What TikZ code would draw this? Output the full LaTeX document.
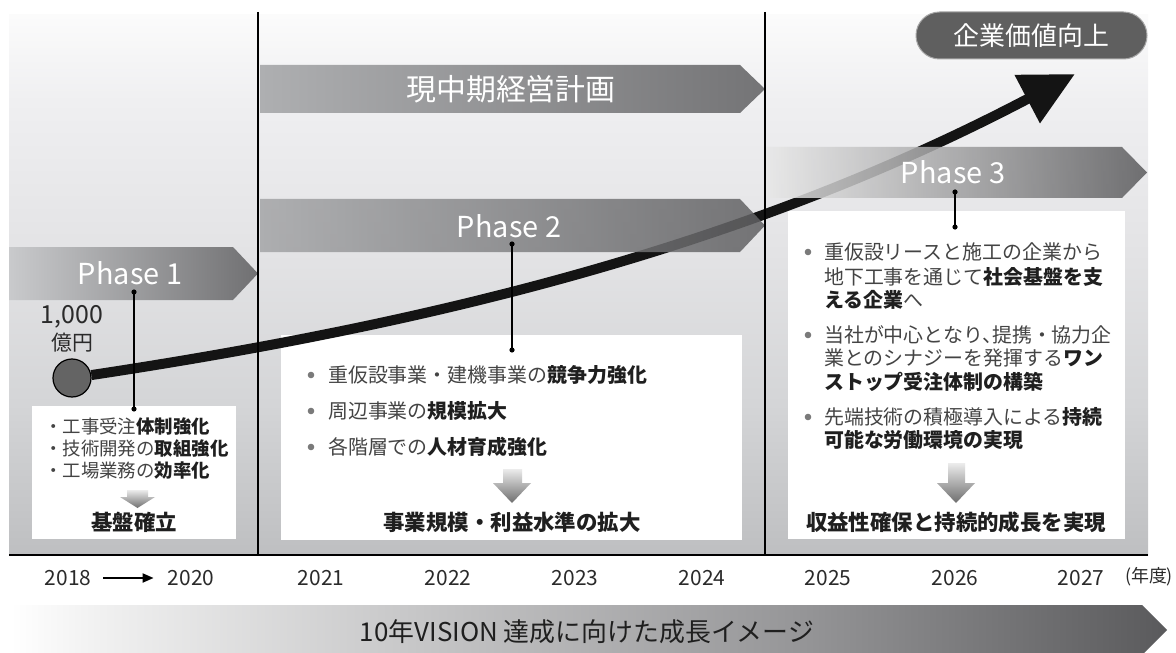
\documentclass[tikz,border=0pt]{standalone}
\usepackage{fontspec}
\setmainfont{Noto Sans CJK JP}
\usetikzlibrary{arrows.meta}
\definecolor{ptop}{HTML}{FBFBFB}
\definecolor{pm1}{HTML}{EFEFF1}
\definecolor{pm2}{HTML}{E3E3E5}
\definecolor{pm3}{HTML}{D4D5D7}
\definecolor{pbot}{HTML}{BEBFC1}
\definecolor{bn1}{HTML}{F0F0F0}
\definecolor{bn2}{HTML}{C8C8C9}
\definecolor{bn3}{HTML}{969698}
\definecolor{bn4}{HTML}{5A5A5C}
\definecolor{txtn}{HTML}{444444}
\definecolor{txtb}{HTML}{1F1F1F}
\definecolor{bulc}{HTML}{7A7A7A}
\definecolor{curvec}{HTML}{141414}
\definecolor{dotc}{HTML}{646464}
\definecolor{pillc}{HTML}{5F5F5F}
\definecolor{p1l}{HTML}{C9CACC}
\definecolor{p1r}{HTML}{707072}
\definecolor{mpl}{HTML}{AEAFB1}
\definecolor{mpr}{HTML}{747476}
\definecolor{p2l}{HTML}{A4A5A7}
\definecolor{p2r}{HTML}{606062}
\definecolor{p3l}{HTML}{E8E8E8}
\definecolor{p3r}{HTML}{5A5A5C}
\definecolor{arl}{HTML}{ECECEC}
\definecolor{arr}{HTML}{6E6E6E}
\definecolor{yrc}{HTML}{2A2A2A}
\pgfdeclareverticalshading{panelshade}{100bp}{color(0bp)=(pbot); color(25bp)=(pbot); color(39bp)=(pm3); color(53bp)=(pm2); color(67bp)=(pm1); color(75bp)=(ptop); color(100bp)=(ptop)}
\pgfdeclarehorizontalshading{bannershade}{100bp}{color(0bp)=(white); color(25bp)=(white); color(29bp)=(bn1); color(42bp)=(bn2); color(59bp)=(bn3); color(75bp)=(bn4); color(100bp)=(bn4)}
\newcommand\fsz[2]{\fontsize{#1}{#2}\selectfont}
\newcommand\bt[1]{{\bfseries\color{txtb}#1}}
\tikzset{
  phtxt/.style={inner sep=0pt, text=white, font=\fsz{29}{33}},
  item/.style={inner sep=0pt, anchor=west, text=txtn, font=\fsz{20}{24}},
  itemsm/.style={inner sep=0pt, anchor=west, text=txtn, font=\fsz{18.5}{22}},
  result/.style={inner sep=0pt, text=txtb, font=\fsz{21.5}{24}\bfseries},
  yr/.style={inner sep=0pt, text=yrc, font=\fsz{21}{24}},
  bullet/.style={fill=bulc},
  conn/.style={line width=1.2bp, draw=black},
  cdot/.style={fill=black},
  divider/.style={line width=1.5bp, draw=black},
  whitebox/.style={fill=white},
  downarr/.style={top color=arl, bottom color=arr},
  bigcurve/.style={line width=10bp, draw=curvec, -{Triangle[length=54bp,width=52bp]}},
  pill/.style={fill=pillc, draw=black!35, line width=1bp, rounded corners=23.5bp, minimum width=231bp, minimum height=47bp, inner sep=0pt, text=white, font=\fsz{26}{30}}
}
\begin{document}
\begin{tikzpicture}[x=1bp,y=-1bp]
\useasboundingbox (0,0) rectangle (1176,653);
% panel
\path[shading=panelshade] (9,15) rectangle (1148,555);
% white boxes
\path[whitebox] (32,406) rectangle (236,539);
\path[whitebox] (281,335) rectangle (742,540);
\path[whitebox] (788,211) rectangle (1125,539);
% growth curve
\node[circle, fill=dotc, draw=black, line width=1.2bp, minimum size=38bp, inner sep=0pt] (start) at (72,378) {};
\coordinate (tip) at (1075,74);
\draw[bigcurve] (start) .. controls (422,325) and (740,250) .. (tip);
% phase arrows
\path[left color=mpl, right color=mpr] (260,65) -- (740,65) -- (765,89) -- (740,113) -- (260,113) -- cycle;
\path[left color=p1l, right color=p1r] (9,247) -- (233,247) -- (258,273.5) -- (233,300) -- (9,300) -- cycle;
\path[left color=p2l, right color=p2r, fill opacity=0.85] (260,199) -- (740,199) -- (765,225.5) -- (740,252) -- (260,252) -- cycle;
\path[left color=p3l, right color=p3r, fill opacity=0.85] (766,147) -- (1122,147) -- (1147,172.5) -- (1122,198) -- (766,198) -- cycle;
% dividers
\draw[divider] (258,12) -- (258,555);
\draw[divider] (765,12) -- (765,555);
\draw[line width=1.3bp] (9,555) -- (1148,555);
% phase labels
\node[phtxt] (mid) at (511,89.5) {\fsz{30}{34}現中期経営計画};
\node[phtxt] (ph1) at (130,273) {Phase 1};
\node[phtxt] (ph2) at (509,226) {Phase 2};
\node[phtxt] (ph3) at (953,172) {Phase 3};
% goal
\node[pill] (goal) at (1031.5,35.5) {企業価値向上};
% 1000
\node[inner sep=0pt, text=yrc, font=\fsz{25}{28}] (amt) at (72,317) {1,000};
\node[inner sep=0pt, text=yrc, font=\fsz{21}{24}] (unit) at (72,343) {億円};
% connectors
\coordinate (c1a) at (134,292); \coordinate (c1b) at (134,409);
\coordinate (c2a) at (512,244); \coordinate (c2b) at (512,350);
\coordinate (c3a) at (955,192); \coordinate (c3b) at (955,227);
\draw[conn] (c1a) -- (c1b);
\draw[conn] (c2a) -- (c2b);
\draw[conn] (c3a) -- (c3b);
\foreach \c in {c1a,c1b,c2a,c2b,c3a,c3b} \fill[cdot] (\c) circle (2.6);
% phase 1 box
\node[itemsm] (l1a) at (44,427) {・工事受注\bt{体制強化}};
\node[itemsm] (l1b) at (44,449) {・技術開発の\bt{取組強化}};
\node[itemsm] (l1c) at (44,471) {・工場業務の\bt{効率化}};
\path[downarr] (127,490) -- (148,490) -- (148,497) -- (155,497) -- (137.5,508) -- (120,497) -- (127,497) -- cycle;
\node[result] (r1) at (134,522) {基盤確立};
% phase 2 box
\fill[bullet] (311,375) circle (3.3);
\fill[bullet] (311,411) circle (3.3);
\fill[bullet] (311,447) circle (3.3);
\node[item] (l2a) at (328,375) {重仮設事業・建機事業の\bt{競争力強化}};
\node[item] (l2b) at (328,411) {周辺事業の\bt{規模拡大}};
\node[item] (l2c) at (328,447) {各階層での\bt{人材育成強化}};
\path[downarr] (503,469) -- (522,469) -- (522,483) -- (531,483) -- (512,503) -- (493,483) -- (503,483) -- cycle;
\node[result] (r2) at (512,522) {事業規模・利益水準の拡大};
% phase 3 box
\fill[bullet] (808,252) circle (3.3);
\fill[bullet] (808,335) circle (3.3);
\fill[bullet] (808,417) circle (3.3);
\node[item] (l3a) at (824,252) {重仮設リースと施工の企業から};
\node[item] (l3b) at (824,277) {地下工事を通じて\bt{社会基盤を支}};
\node[item] (l3c) at (824,300) {\bt{える企業}へ};
\node[item] (l3d) at (824,335) {当社が中心となり、\hspace{-0.5em}提携・協力企};
\node[item] (l3e) at (824,358) {業とのシナジーを発揮する\bt{ワン}};
\node[item] (l3f) at (824,382) {\bt{ストップ受注体制の構築}};
\node[item] (l3g) at (824,417) {先端技術の積極導入による\bt{持続}};
\node[item] (l3h) at (824,440) {\bt{可能な労働環境の実現}};
\path[downarr] (948,463) -- (965,463) -- (965,483) -- (975,483) -- (956,503) -- (937,483) -- (948,483) -- cycle;
\node[result] (r3) at (956,522) {収益性確保と持続的成長を実現};
% years
\node[yr] (y2018) at (68,578) {2018};
\node[yr] (y2020) at (191,578) {2020};
\draw[line width=2bp, -{Triangle[length=11bp,width=9bp]}, shorten <=12bp, shorten >=14bp] (y2018) -- (y2020);
\node[yr] (y2021) at (321,578) {2021};
\node[yr] (y2022) at (448,578) {2022};
\node[yr] (y2023) at (575,578) {2023};
\node[yr] (y2024) at (702,578) {2024};
\node[yr] (y2025) at (828,578) {2025};
\node[yr] (y2026) at (955,578) {2026};
\node[yr] (y2027) at (1081,578) {2027};
\node[inner sep=0pt, text=yrc, font=\fsz{18}{22}] (nendo) at (1149,577) {(年度)};
% banner
\path[shading=bannershade] (10,605) -- (1142,605) -- (1167,630) -- (1142,655) -- (10,655) -- cycle;
\node[inner sep=0pt, text=txtb, font=\fsz{26}{30}] (ban) at (587,632) {10年VISION 達成に向けた成長イメージ};
\end{tikzpicture}
\end{document}
